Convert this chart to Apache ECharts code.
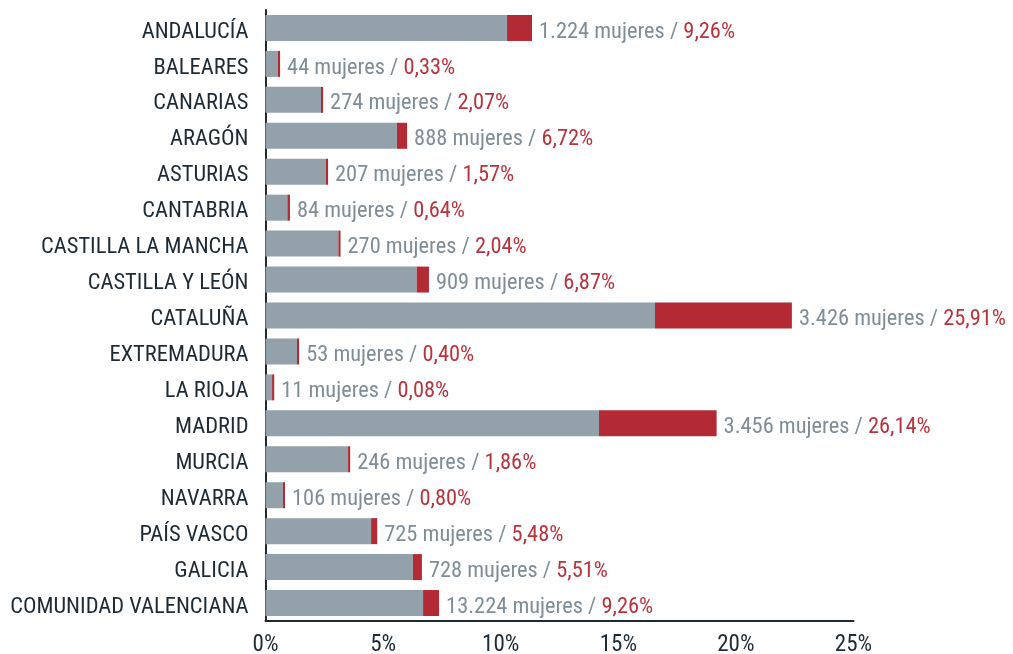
<!DOCTYPE html>
<html>
<head>
<meta charset="utf-8">
<style>html,body{margin:0;padding:0;background:#fff}#c{width:1013px;height:654px}</style>
<script src="https://cdn.jsdelivr.net/npm/echarts@6/dist/echarts.min.js"></script>
</head>
<body>
<div id="c"></div>
<script>
const categories = ["ANDALUCÍA","BALEARES","CANARIAS","ARAGÓN","ASTURIAS","CANTABRIA","CASTILLA LA MANCHA","CASTILLA Y LEÓN","CATALUÑA","EXTREMADURA","LA RIOJA","MADRID","MURCIA","NAVARRA","PAÍS VASCO","GALICIA","COMUNIDAD VALENCIANA"];
const grayValues = [10.27, 0.53, 2.36, 5.59, 2.57, 0.93, 3.10, 6.43, 16.56, 1.34, 0.28, 14.18, 3.51, 0.74, 4.49, 6.27, 6.70];
const redValues  = [1.06, 0.09, 0.09, 0.43, 0.09, 0.11, 0.09, 0.52, 5.82, 0.09, 0.09, 5.00, 0.09, 0.09, 0.26, 0.38, 0.68];
const womenLabels = ["1.224","44","274","888","207","84","270","909","3.426","53","11","3.456","246","106","725","728","13.224"];
const pctLabels = ["9,26%","0,33%","2,07%","6,72%","1,57%","0,64%","2,04%","6,87%","25,91%","0,40%","0,08%","26,14%","1,86%","0,80%","5,48%","5,51%","9,26%"];
const xTicks = [0, 5, 10, 15, 20, 25];

const FONT = "'Liberation Sans Narrow', 'Roboto Condensed', 'DejaVu Sans Condensed', sans-serif";
const chart = echarts.init(document.getElementById('c'), null, {renderer: 'canvas'});
chart.setOption({
  animation: false,
  backgroundColor: '#ffffff',
  grid: {left: 265.5, right: 159.5, top: 10, bottom: 33, containLabel: false, outerBoundsMode: 'none'},
  xAxis: {
    type: 'value', min: xTicks[0], max: xTicks[xTicks.length - 1], interval: 5,
    axisLine: {show: true, lineStyle: {color: '#1e2b35', width: 2}},
    axisTick: {show: false},
    splitLine: {show: false},
    axisLabel: {formatter: '{value}%', color: '#1e2b35', fontSize: 23, fontFamily: FONT, margin: 13}
  },
  yAxis: {
    type: 'category', data: categories, inverse: true,
    axisLine: {show: true, lineStyle: {color: '#1e2b35', width: 2}},
    axisTick: {show: false},
    axisLabel: {color: '#1e2b35', fontSize: 22.5, fontFamily: FONT, margin: 17, verticalAlign: 'top', lineHeight: 8}
  },
  series: [
    {
      type: 'bar', stack: 'total', data: grayValues, barWidth: 26,
      itemStyle: {color: '#93a1aa'}
    },
    {
      type: 'bar', stack: 'total', data: redValues, barWidth: 26,
      itemStyle: {color: '#b32a34'},
      label: {
        show: true, position: 'right', distance: 7, offset: [0, 4],
        formatter: function (p) { return '{a|' + womenLabels[p.dataIndex] + ' mujeres / }{b|' + pctLabels[p.dataIndex] + '}'; },
        rich: {
          a: {color: '#7f8d97', fontSize: 22.4, fontFamily: FONT},
          b: {color: '#b8343d', fontSize: 22.4, fontFamily: FONT}
        }
      }
    }
  ]
});
</script>
</body>
</html>
